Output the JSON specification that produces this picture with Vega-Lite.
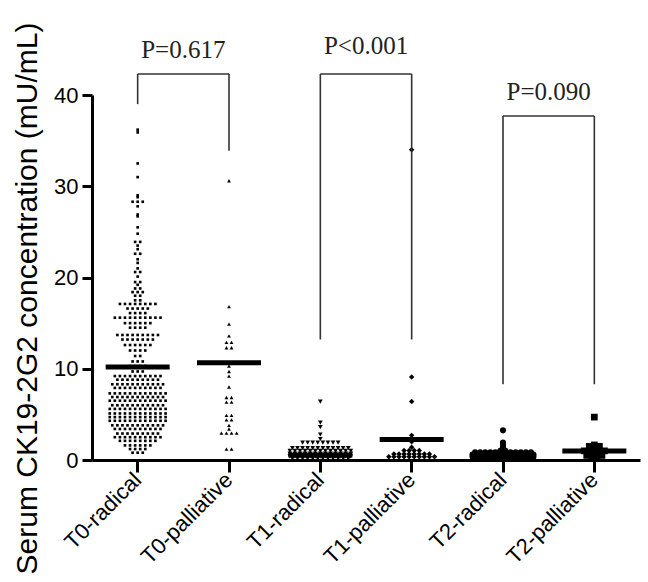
{
"$schema":"https://vega.github.io/schema/vega-lite/v6.json",
"width":548,"height":365,
"autosize":{"type":"none"},
"padding":{"left":92,"top":95,"right":8,"bottom":122},
"background":"white",
"config":{"view":{"stroke":null},"font":"Liberation Sans"},
"datasets":{
"pts":[
{"g":"T0-radical","v":36.2},{"g":"T0-radical","v":35.9},{"g":"T0-radical","v":32.5},{"g":"T0-radical","v":31.0},{"g":"T0-radical","v":29.0},{"g":"T0-radical","v":28.8},
{"g":"T0-radical","v":28.3},{"g":"T0-radical","v":28.3},{"g":"T0-radical","v":28.3},
{"g":"T0-radical","v":27.8},{"g":"T0-radical","v":26.9},{"g":"T0-radical","v":26.7},{"g":"T0-radical","v":25.5},{"g":"T0-radical","v":24.8},
{"g":"T0-radical","v":23.9},{"g":"T0-radical","v":23.9},{"g":"T0-radical","v":23.5},{"g":"T0-radical","v":23.1},
{"g":"T0-radical","v":22.6},{"g":"T0-radical","v":22.6},{"g":"T0-radical","v":22.0},{"g":"T0-radical","v":21.6},{"g":"T0-radical","v":21.0},
{"g":"T0-radical","v":20.6},{"g":"T0-radical","v":20.6},{"g":"T0-radical","v":20.1},{"g":"T0-radical","v":19.5},{"g":"T0-radical","v":19.5},{"g":"T0-radical","v":19.2},
{"g":"T0-radical","v":18.8},{"g":"T0-radical","v":18.8},{"g":"T0-radical","v":18.4},{"g":"T0-radical","v":18.4},{"g":"T0-radical","v":18.4},
{"g":"T0-radical","v":18.0},{"g":"T0-radical","v":18.0},{"g":"T0-radical","v":17.5},{"g":"T0-radical","v":17.5},
{"g":"T0-radical","v":17.1},{"g":"T0-radical","v":17.1},{"g":"T0-radical","v":17.1},{"g":"T0-radical","v":17.1},{"g":"T0-radical","v":17.1},{"g":"T0-radical","v":17.1},{"g":"T0-radical","v":17.1},{"g":"T0-radical","v":17.1},
{"g":"T0-radical","v":16.6},{"g":"T0-radical","v":16.6},{"g":"T0-radical","v":16.6},{"g":"T0-radical","v":16.6},{"g":"T0-radical","v":16.6},
{"g":"T0-radical","v":16.1},{"g":"T0-radical","v":16.1},{"g":"T0-radical","v":16.1},{"g":"T0-radical","v":16.1},
{"g":"T0-radical","v":15.6},{"g":"T0-radical","v":15.6},{"g":"T0-radical","v":15.6},{"g":"T0-radical","v":15.6},{"g":"T0-radical","v":15.6},{"g":"T0-radical","v":15.6},{"g":"T0-radical","v":15.6},{"g":"T0-radical","v":15.6},{"g":"T0-radical","v":15.6},{"g":"T0-radical","v":15.6},
{"g":"T0-radical","v":15.0},{"g":"T0-radical","v":15.0},{"g":"T0-radical","v":15.0},{"g":"T0-radical","v":15.0},{"g":"T0-radical","v":15.0},{"g":"T0-radical","v":15.0},
{"g":"T0-radical","v":14.5},{"g":"T0-radical","v":14.5},{"g":"T0-radical","v":14.5},{"g":"T0-radical","v":14.5},
{"g":"T0-radical","v":13.7},{"g":"T0-radical","v":13.7},{"g":"T0-radical","v":13.7},{"g":"T0-radical","v":13.7},{"g":"T0-radical","v":13.7},{"g":"T0-radical","v":13.7},{"g":"T0-radical","v":13.7},{"g":"T0-radical","v":13.7},{"g":"T0-radical","v":13.7},
{"g":"T0-radical","v":13.2},{"g":"T0-radical","v":13.2},{"g":"T0-radical","v":13.2},{"g":"T0-radical","v":13.2},{"g":"T0-radical","v":13.2},{"g":"T0-radical","v":13.2},{"g":"T0-radical","v":13.2},
{"g":"T0-radical","v":12.6},{"g":"T0-radical","v":12.6},{"g":"T0-radical","v":12.6},{"g":"T0-radical","v":12.6},{"g":"T0-radical","v":12.6},{"g":"T0-radical","v":12.6},
{"g":"T0-radical","v":12.0},{"g":"T0-radical","v":12.0},{"g":"T0-radical","v":12.0},{"g":"T0-radical","v":12.0},
{"g":"T0-radical","v":11.4},{"g":"T0-radical","v":11.4},
{"g":"T0-radical","v":10.8},{"g":"T0-radical","v":10.8},{"g":"T0-radical","v":10.8},
{"g":"T0-radical","v":10.3},{"g":"T0-radical","v":10.3},{"g":"T0-radical","v":10.3},{"g":"T0-radical","v":10.3},
{"g":"T0-radical","v":9.7},{"g":"T0-radical","v":9.7},{"g":"T0-radical","v":9.7},
{"g":"T0-radical","v":9.2},{"g":"T0-radical","v":9.2},{"g":"T0-radical","v":9.2},{"g":"T0-radical","v":9.2},{"g":"T0-radical","v":9.2},{"g":"T0-radical","v":9.2},{"g":"T0-radical","v":9.2},{"g":"T0-radical","v":9.2},{"g":"T0-radical","v":9.2},{"g":"T0-radical","v":9.2},
{"g":"T0-radical","v":8.8},{"g":"T0-radical","v":8.8},{"g":"T0-radical","v":8.8},{"g":"T0-radical","v":8.8},{"g":"T0-radical","v":8.8},{"g":"T0-radical","v":8.8},{"g":"T0-radical","v":8.8},{"g":"T0-radical","v":8.8},{"g":"T0-radical","v":8.8},
{"g":"T0-radical","v":8.3},{"g":"T0-radical","v":8.3},{"g":"T0-radical","v":8.3},{"g":"T0-radical","v":8.3},{"g":"T0-radical","v":8.3},{"g":"T0-radical","v":8.3},{"g":"T0-radical","v":8.3},{"g":"T0-radical","v":8.3},{"g":"T0-radical","v":8.3},{"g":"T0-radical","v":8.3},{"g":"T0-radical","v":8.3},
{"g":"T0-radical","v":7.9},{"g":"T0-radical","v":7.9},{"g":"T0-radical","v":7.9},{"g":"T0-radical","v":7.9},{"g":"T0-radical","v":7.9},{"g":"T0-radical","v":7.9},{"g":"T0-radical","v":7.9},{"g":"T0-radical","v":7.9},{"g":"T0-radical","v":7.9},{"g":"T0-radical","v":7.9},
{"g":"T0-radical","v":7.3},{"g":"T0-radical","v":7.3},{"g":"T0-radical","v":7.3},{"g":"T0-radical","v":7.3},{"g":"T0-radical","v":7.3},{"g":"T0-radical","v":7.3},{"g":"T0-radical","v":7.3},{"g":"T0-radical","v":7.3},{"g":"T0-radical","v":7.3},{"g":"T0-radical","v":7.3},{"g":"T0-radical","v":7.3},{"g":"T0-radical","v":7.3},
{"g":"T0-radical","v":6.9},{"g":"T0-radical","v":6.9},{"g":"T0-radical","v":6.9},{"g":"T0-radical","v":6.9},{"g":"T0-radical","v":6.9},{"g":"T0-radical","v":6.9},{"g":"T0-radical","v":6.9},{"g":"T0-radical","v":6.9},{"g":"T0-radical","v":6.9},{"g":"T0-radical","v":6.9},{"g":"T0-radical","v":6.9},
{"g":"T0-radical","v":6.5},{"g":"T0-radical","v":6.5},{"g":"T0-radical","v":6.5},{"g":"T0-radical","v":6.5},{"g":"T0-radical","v":6.5},{"g":"T0-radical","v":6.5},{"g":"T0-radical","v":6.5},{"g":"T0-radical","v":6.5},{"g":"T0-radical","v":6.5},{"g":"T0-radical","v":6.5},{"g":"T0-radical","v":6.5},{"g":"T0-radical","v":6.5},
{"g":"T0-radical","v":6.0},{"g":"T0-radical","v":6.0},{"g":"T0-radical","v":6.0},{"g":"T0-radical","v":6.0},{"g":"T0-radical","v":6.0},{"g":"T0-radical","v":6.0},{"g":"T0-radical","v":6.0},{"g":"T0-radical","v":6.0},{"g":"T0-radical","v":6.0},{"g":"T0-radical","v":6.0},{"g":"T0-radical","v":6.0},
{"g":"T0-radical","v":5.6},{"g":"T0-radical","v":5.6},{"g":"T0-radical","v":5.6},{"g":"T0-radical","v":5.6},{"g":"T0-radical","v":5.6},{"g":"T0-radical","v":5.6},{"g":"T0-radical","v":5.6},{"g":"T0-radical","v":5.6},{"g":"T0-radical","v":5.6},{"g":"T0-radical","v":5.6},{"g":"T0-radical","v":5.6},{"g":"T0-radical","v":5.6},
{"g":"T0-radical","v":5.1},{"g":"T0-radical","v":5.1},{"g":"T0-radical","v":5.1},{"g":"T0-radical","v":5.1},{"g":"T0-radical","v":5.1},{"g":"T0-radical","v":5.1},{"g":"T0-radical","v":5.1},{"g":"T0-radical","v":5.1},{"g":"T0-radical","v":5.1},{"g":"T0-radical","v":5.1},{"g":"T0-radical","v":5.1},{"g":"T0-radical","v":5.1},
{"g":"T0-radical","v":4.7},{"g":"T0-radical","v":4.7},{"g":"T0-radical","v":4.7},{"g":"T0-radical","v":4.7},{"g":"T0-radical","v":4.7},{"g":"T0-radical","v":4.7},{"g":"T0-radical","v":4.7},{"g":"T0-radical","v":4.7},{"g":"T0-radical","v":4.7},{"g":"T0-radical","v":4.7},{"g":"T0-radical","v":4.7},{"g":"T0-radical","v":4.7},
{"g":"T0-radical","v":4.3},{"g":"T0-radical","v":4.3},{"g":"T0-radical","v":4.3},{"g":"T0-radical","v":4.3},{"g":"T0-radical","v":4.3},{"g":"T0-radical","v":4.3},{"g":"T0-radical","v":4.3},{"g":"T0-radical","v":4.3},{"g":"T0-radical","v":4.3},{"g":"T0-radical","v":4.3},{"g":"T0-radical","v":4.3},{"g":"T0-radical","v":4.3},
{"g":"T0-radical","v":3.8},{"g":"T0-radical","v":3.8},{"g":"T0-radical","v":3.8},{"g":"T0-radical","v":3.8},{"g":"T0-radical","v":3.8},{"g":"T0-radical","v":3.8},{"g":"T0-radical","v":3.8},{"g":"T0-radical","v":3.8},{"g":"T0-radical","v":3.8},{"g":"T0-radical","v":3.8},{"g":"T0-radical","v":3.8},
{"g":"T0-radical","v":3.4},{"g":"T0-radical","v":3.4},{"g":"T0-radical","v":3.4},{"g":"T0-radical","v":3.4},{"g":"T0-radical","v":3.4},{"g":"T0-radical","v":3.4},{"g":"T0-radical","v":3.4},{"g":"T0-radical","v":3.4},{"g":"T0-radical","v":3.4},{"g":"T0-radical","v":3.4},
{"g":"T0-radical","v":2.9},{"g":"T0-radical","v":2.9},{"g":"T0-radical","v":2.9},{"g":"T0-radical","v":2.9},{"g":"T0-radical","v":2.9},{"g":"T0-radical","v":2.9},{"g":"T0-radical","v":2.9},{"g":"T0-radical","v":2.9},{"g":"T0-radical","v":2.9},
{"g":"T0-radical","v":2.5},{"g":"T0-radical","v":2.5},{"g":"T0-radical","v":2.5},{"g":"T0-radical","v":2.5},{"g":"T0-radical","v":2.5},{"g":"T0-radical","v":2.5},{"g":"T0-radical","v":2.5},{"g":"T0-radical","v":2.5},{"g":"T0-radical","v":2.5},{"g":"T0-radical","v":2.5},
{"g":"T0-radical","v":2.1},{"g":"T0-radical","v":2.1},{"g":"T0-radical","v":2.1},{"g":"T0-radical","v":2.1},{"g":"T0-radical","v":2.1},{"g":"T0-radical","v":2.1},{"g":"T0-radical","v":2.1},{"g":"T0-radical","v":2.1},
{"g":"T0-radical","v":1.6},{"g":"T0-radical","v":1.6},{"g":"T0-radical","v":1.6},{"g":"T0-radical","v":1.6},{"g":"T0-radical","v":1.6},{"g":"T0-radical","v":1.6},
{"g":"T0-radical","v":1.2},{"g":"T0-radical","v":1.2},{"g":"T0-radical","v":1.2},{"g":"T0-radical","v":1.2},
{"g":"T0-radical","v":0.8},{"g":"T0-radical","v":0.8},{"g":"T0-radical","v":0.8},
{"g":"T0-palliative","v":30.6},{"g":"T0-palliative","v":16.8},{"g":"T0-palliative","v":14.9},{"g":"T0-palliative","v":13.6},
{"g":"T0-palliative","v":12.9},{"g":"T0-palliative","v":12.9},{"g":"T0-palliative","v":12.3},{"g":"T0-palliative","v":12.3},
{"g":"T0-palliative","v":10.7},{"g":"T0-palliative","v":10.3},{"g":"T0-palliative","v":9.7},{"g":"T0-palliative","v":9.2},{"g":"T0-palliative","v":8.0},
{"g":"T0-palliative","v":6.85},{"g":"T0-palliative","v":6.85},{"g":"T0-palliative","v":6.35},{"g":"T0-palliative","v":6.35},
{"g":"T0-palliative","v":4.9},{"g":"T0-palliative","v":4.9},{"g":"T0-palliative","v":4.4},{"g":"T0-palliative","v":4.4},
{"g":"T0-palliative","v":3.8},{"g":"T0-palliative","v":3.4},
{"g":"T0-palliative","v":2.95},{"g":"T0-palliative","v":2.95},{"g":"T0-palliative","v":2.95},{"g":"T0-palliative","v":2.95},
{"g":"T0-palliative","v":1.2},{"g":"T0-palliative","v":1.2},
{"g":"T1-radical","v":6.4},{"g":"T1-radical","v":4.1},{"g":"T1-radical","v":3.6},{"g":"T1-radical","v":2.8},{"g":"T1-radical","v":2.3},
{"g":"T1-radical","v":1.9},{"g":"T1-radical","v":1.9},{"g":"T1-radical","v":1.9},{"g":"T1-radical","v":1.9},{"g":"T1-radical","v":1.9},{"g":"T1-radical","v":1.9},{"g":"T1-radical","v":1.9},{"g":"T1-radical","v":1.9},
{"g":"T1-radical","v":1.3},{"g":"T1-radical","v":1.3},{"g":"T1-radical","v":1.3},{"g":"T1-radical","v":1.3},{"g":"T1-radical","v":1.3},{"g":"T1-radical","v":1.3},{"g":"T1-radical","v":1.3},{"g":"T1-radical","v":1.3},{"g":"T1-radical","v":1.3},{"g":"T1-radical","v":1.3},{"g":"T1-radical","v":1.3},{"g":"T1-radical","v":1.3},
{"g":"T1-radical","v":1.0},{"g":"T1-radical","v":1.0},{"g":"T1-radical","v":1.0},{"g":"T1-radical","v":1.0},{"g":"T1-radical","v":1.0},{"g":"T1-radical","v":1.0},{"g":"T1-radical","v":1.0},{"g":"T1-radical","v":1.0},{"g":"T1-radical","v":1.0},{"g":"T1-radical","v":1.0},{"g":"T1-radical","v":1.0},{"g":"T1-radical","v":1.0},{"g":"T1-radical","v":1.0},
{"g":"T1-radical","v":0.7},{"g":"T1-radical","v":0.7},{"g":"T1-radical","v":0.7},{"g":"T1-radical","v":0.7},{"g":"T1-radical","v":0.7},{"g":"T1-radical","v":0.7},{"g":"T1-radical","v":0.7},{"g":"T1-radical","v":0.7},{"g":"T1-radical","v":0.7},{"g":"T1-radical","v":0.7},{"g":"T1-radical","v":0.7},{"g":"T1-radical","v":0.7},{"g":"T1-radical","v":0.7},
{"g":"T1-radical","v":0.4},{"g":"T1-radical","v":0.4},{"g":"T1-radical","v":0.4},{"g":"T1-radical","v":0.4},{"g":"T1-radical","v":0.4},{"g":"T1-radical","v":0.4},{"g":"T1-radical","v":0.4},{"g":"T1-radical","v":0.4},{"g":"T1-radical","v":0.4},{"g":"T1-radical","v":0.4},{"g":"T1-radical","v":0.4},{"g":"T1-radical","v":0.4},{"g":"T1-radical","v":0.4},
{"g":"T1-radical","v":0.15},{"g":"T1-radical","v":0.15},{"g":"T1-radical","v":0.15},{"g":"T1-radical","v":0.15},{"g":"T1-radical","v":0.15},{"g":"T1-radical","v":0.15},{"g":"T1-radical","v":0.15},{"g":"T1-radical","v":0.15},{"g":"T1-radical","v":0.15},{"g":"T1-radical","v":0.15},{"g":"T1-radical","v":0.15},{"g":"T1-radical","v":0.15},
{"g":"T1-palliative","v":34.0},{"g":"T1-palliative","v":9.1},{"g":"T1-palliative","v":6.4},{"g":"T1-palliative","v":2.7},{"g":"T1-palliative","v":2.0},{"g":"T1-palliative","v":1.4},
{"g":"T1-palliative","v":1.05},{"g":"T1-palliative","v":1.05},{"g":"T1-palliative","v":1.05},{"g":"T1-palliative","v":1.05},
{"g":"T1-palliative","v":0.65},{"g":"T1-palliative","v":0.65},{"g":"T1-palliative","v":0.65},{"g":"T1-palliative","v":0.65},{"g":"T1-palliative","v":0.65},{"g":"T1-palliative","v":0.65},{"g":"T1-palliative","v":0.65},{"g":"T1-palliative","v":0.65},
{"g":"T1-palliative","v":0.35},{"g":"T1-palliative","v":0.35},{"g":"T1-palliative","v":0.35},{"g":"T1-palliative","v":0.35},{"g":"T1-palliative","v":0.35},{"g":"T1-palliative","v":0.35},{"g":"T1-palliative","v":0.35},{"g":"T1-palliative","v":0.35},{"g":"T1-palliative","v":0.35},{"g":"T1-palliative","v":0.35},
{"g":"T2-radical","v":3.25},{"g":"T2-radical","v":1.9},{"g":"T2-radical","v":1.75},{"g":"T2-radical","v":1.4},{"g":"T2-radical","v":1.2},{"g":"T2-radical","v":1.0},{"g":"T2-radical","v":1.0},
{"g":"T2-radical","v":0.85},{"g":"T2-radical","v":0.85},{"g":"T2-radical","v":0.85},{"g":"T2-radical","v":0.85},{"g":"T2-radical","v":0.85},{"g":"T2-radical","v":0.85},{"g":"T2-radical","v":0.85},{"g":"T2-radical","v":0.85},{"g":"T2-radical","v":0.85},{"g":"T2-radical","v":0.85},{"g":"T2-radical","v":0.85},{"g":"T2-radical","v":0.85},
{"g":"T2-radical","v":0.6},{"g":"T2-radical","v":0.6},{"g":"T2-radical","v":0.6},{"g":"T2-radical","v":0.6},{"g":"T2-radical","v":0.6},{"g":"T2-radical","v":0.6},{"g":"T2-radical","v":0.6},{"g":"T2-radical","v":0.6},{"g":"T2-radical","v":0.6},{"g":"T2-radical","v":0.6},{"g":"T2-radical","v":0.6},{"g":"T2-radical","v":0.6},{"g":"T2-radical","v":0.6},
{"g":"T2-radical","v":0.35},{"g":"T2-radical","v":0.35},{"g":"T2-radical","v":0.35},{"g":"T2-radical","v":0.35},{"g":"T2-radical","v":0.35},{"g":"T2-radical","v":0.35},{"g":"T2-radical","v":0.35},{"g":"T2-radical","v":0.35},{"g":"T2-radical","v":0.35},{"g":"T2-radical","v":0.35},{"g":"T2-radical","v":0.35},{"g":"T2-radical","v":0.35},{"g":"T2-radical","v":0.35},
{"g":"T2-radical","v":0.15},{"g":"T2-radical","v":0.15},{"g":"T2-radical","v":0.15},{"g":"T2-radical","v":0.15},{"g":"T2-radical","v":0.15},{"g":"T2-radical","v":0.15},{"g":"T2-radical","v":0.15},{"g":"T2-radical","v":0.15},{"g":"T2-radical","v":0.15},{"g":"T2-radical","v":0.15},{"g":"T2-radical","v":0.15},{"g":"T2-radical","v":0.15},
{"g":"T2-palliative","v":4.7},{"g":"T2-palliative","v":1.65},{"g":"T2-palliative","v":1.5},{"g":"T2-palliative","v":1.5},{"g":"T2-palliative","v":1.5},
{"g":"T2-palliative","v":1.0},{"g":"T2-palliative","v":1.0},{"g":"T2-palliative","v":1.0},{"g":"T2-palliative","v":1.0},{"g":"T2-palliative","v":1.0},
{"g":"T2-palliative","v":0.5},{"g":"T2-palliative","v":0.5},{"g":"T2-palliative","v":0.5},{"g":"T2-palliative","v":0.5},
{"g":"T2-palliative","v":0.25},{"g":"T2-palliative","v":0.25}
],
"means":[
{"g":"T0-radical","m":10.2},{"g":"T0-palliative","m":10.65},{"g":"T1-radical","m":0.55},
{"g":"T1-palliative","m":2.25},{"g":"T2-radical","m":0.35},{"g":"T2-palliative","m":1.0}
],
"hbr":[
{"a":"T0-radical","b":"T0-palliative","y":42.3},
{"a":"T1-radical","b":"T1-palliative","y":42.3},
{"a":"T2-radical","b":"T2-palliative","y":37.7}
],
"vbr":[
{"g":"T0-radical","y1":42.3,"y2":39.0},{"g":"T0-palliative","y1":42.3,"y2":33.9},
{"g":"T1-radical","y1":42.3,"y2":13.2},{"g":"T1-palliative","y1":42.3,"y2":13.2},
{"g":"T2-radical","y1":37.7,"y2":8.3},{"g":"T2-palliative","y1":37.7,"y2":8.3}
],
"pv":[
{"a":"T0-radical","y":44.1,"t":"P=0.617"},
{"a":"T1-radical","y":44.5,"t":"P<0.001"},
{"a":"T2-radical","y":39.4,"t":"P=0.090"}
]
},
"layer":[
{
"data":{"name":"pts"},
"transform":[
{"joinaggregate":[{"op":"count","as":"n"}],"groupby":["g","v"]},
{"window":[{"op":"row_number","as":"k"}],"groupby":["g","v"]},
{"calculate":"datum.k - (datum.n + 1) / 2","as":"off"}
],
"mark":{"type":"point","filled":true,"opacity":1,"strokeWidth":0,"color":"black"},
"encoding":{
"x":{"field":"g","type":"nominal","sort":null,
"scale":{"domain":["T0-radical","T0-palliative","T1-radical","T1-palliative","T2-radical","T2-palliative"],"paddingInner":0,"paddingOuter":0},
"axis":{"title":null,"labelAngle":-45,"labelAlign":"right","labelBaseline":"middle","labelFontSize":22,"labelFont":"Liberation Sans","labelColor":"black","labelPadding":4,"domainColor":"black","domainWidth":3,"tickColor":"black","tickWidth":3,"tickSize":12,"grid":false}},
"xOffset":{"field":"off","type":"quantitative","scale":{"domain":[-9,9]}},
"y":{"field":"v","type":"quantitative",
"scale":{"domain":[0,40],"nice":false,"zero":true},
"axis":{"title":"Serum CK19-2G2 concentration (mU/mL)","values":[0,10,20,30,40],"labelFontSize":22,"labelFont":"Liberation Sans","labelColor":"black","labelPadding":4,"domainColor":"black","domainWidth":3,"tickColor":"black","tickWidth":3,"tickSize":10,"grid":false,
"titleFont":"Liberation Sans","titleFontSize":30,"titleFontWeight":"normal","titleColor":"black","titleAngle":-90,"titleBaseline":"alphabetic","titleAlign":"center","titleX":-56,"titleY":203}},
"shape":{"field":"g","type":"nominal","scale":{"domain":["T0-radical","T0-palliative","T1-radical","T1-palliative","T2-radical","T2-palliative"],"range":["square","triangle-up","triangle-down","diamond","circle","square"]},"legend":null},
"size":{"field":"g","type":"ordinal","scale":{"domain":["T0-radical","T0-palliative","T1-radical","T1-palliative","T2-radical","T2-palliative"],"range":[7,45,45,28,10,30]},"legend":null}
}
},
{
"data":{"name":"means"},
"mark":{"type":"tick","color":"black","thickness":5,"size":64,"opacity":1},
"encoding":{
"x":{"field":"g","type":"nominal","sort":null},
"y":{"field":"m","type":"quantitative"}
}
},
{
"data":{"name":"hbr"},
"mark":{"type":"rule","color":"#333333","strokeWidth":1.6},
"encoding":{
"x":{"field":"a","type":"nominal","sort":null,"bandPosition":0.5},
"x2":{"field":"b","bandPosition":0.5},
"y":{"field":"y","type":"quantitative"}
}
},
{
"data":{"name":"vbr"},
"mark":{"type":"rule","color":"#333333","strokeWidth":1.6},
"encoding":{
"x":{"field":"g","type":"nominal","sort":null,"bandPosition":0.5},
"y":{"field":"y1","type":"quantitative"},
"y2":{"field":"y2"}
}
},
{
"data":{"name":"pv"},
"mark":{"type":"text","font":"Liberation Serif","fontSize":25,"color":"#222222","baseline":"alphabetic","align":"center"},
"encoding":{
"x":{"field":"a","type":"nominal","sort":null,"bandPosition":1},
"y":{"field":"y","type":"quantitative"},
"text":{"field":"t"}
}
}
]
}
